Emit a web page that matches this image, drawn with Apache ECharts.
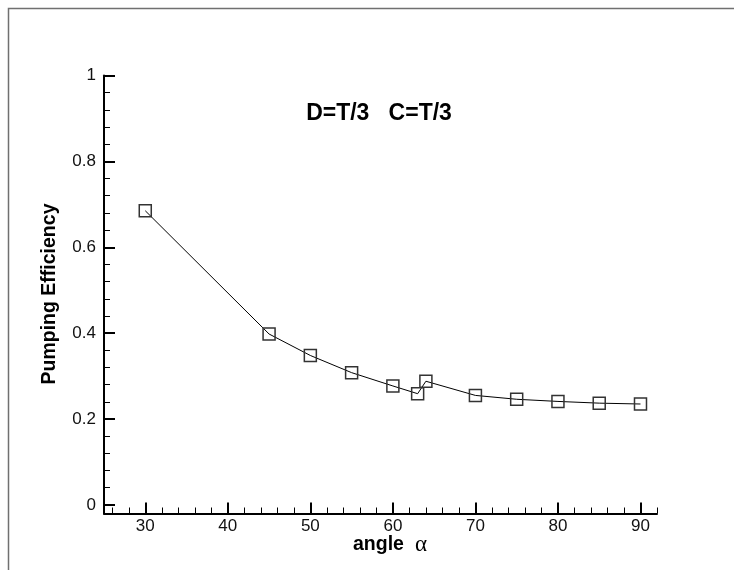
<!DOCTYPE html>
<html>
<head>
<meta charset="utf-8">
<script src="https://cdn.jsdelivr.net/npm/echarts@6/dist/echarts.min.js"></script>
<style>
html,body{margin:0;padding:0;background:#fff;}
#chart{width:734px;height:570px;}
</style>
</head>
<body>
<div id="chart"></div>
<script>
// Data
var angles = [30, 45, 50, 55, 60, 63, 64, 70, 75, 80, 85, 90];
var efficiency = [0.685, 0.398, 0.348, 0.308, 0.277, 0.259, 0.288, 0.255, 0.246, 0.241, 0.237, 0.235];
// Tick values / labels
var xMajorTicks = [30, 40, 50, 60, 70, 80, 90];
var xMinorTicks = [26, 28, 32, 34, 36, 38, 42, 44, 46, 48, 52, 54, 56, 58, 62, 64, 66, 68, 72, 74, 76, 78, 82, 84, 86, 88, 92];
var yMajorTicks = [0, 0.2, 0.4, 0.6, 0.8, 1];
var yMinorTicks = [0.04, 0.08, 0.12, 0.16, 0.24, 0.28, 0.32, 0.36, 0.44, 0.48, 0.52, 0.56, 0.64, 0.68, 0.72, 0.76, 0.84, 0.88, 0.92, 0.96];
var titleText = 'D=T/3   C=T/3';
var yTitle = 'Pumping Efficiency';

var chart = echarts.init(document.getElementById('chart'), null, {renderer: 'canvas'});
var pts = angles.map(function (a, i) { return [a, efficiency[i]]; });
var gridRect = {left: 104, right: 77, top: 75.5, bottom: 56.5};
var fontFam = '"Liberation Sans", Arial, Helvetica, sans-serif';

var option = {
  backgroundColor: '#ffffff',
  animation: false,
  grid: [
    Object.assign({}, gridRect),
    Object.assign({}, gridRect)
  ],
  xAxis: [
    {
      type: 'value', gridIndex: 0, min: 25, max: 92,
      axisLine: {show: true, onZero: false, lineStyle: {color: '#000', width: 2}},
      axisTick: {show: true, inside: true, length: 11, lineStyle: {color: '#000', width: 2}, customValues: xMajorTicks},
      axisLabel: {show: true, margin: 4, color: '#111', fontSize: 17, fontFamily: fontFam, customValues: xMajorTicks},
      splitLine: {show: false}
    },
    {
      type: 'value', gridIndex: 1, min: 25, max: 92,
      axisLine: {show: false, onZero: false},
      axisTick: {show: true, inside: true, length: 6, lineStyle: {color: '#000', width: 1}, customValues: xMinorTicks},
      axisLabel: {show: false},
      splitLine: {show: false}
    }
  ],
  yAxis: [
    {
      type: 'value', gridIndex: 0, min: -0.02, max: 1,
      axisLine: {show: true, onZero: false, lineStyle: {color: '#000', width: 2}},
      axisTick: {show: true, inside: true, length: 11, lineStyle: {color: '#000', width: 2}, customValues: yMajorTicks},
      axisLabel: {show: true, margin: 8, color: '#111', fontSize: 17, fontFamily: fontFam, customValues: yMajorTicks,
        formatter: function (v) { return String(Math.round(v * 10) / 10); }},
      splitLine: {show: false}
    },
    {
      type: 'value', gridIndex: 1, min: -0.02, max: 1,
      axisLine: {show: false, onZero: false},
      axisTick: {show: true, inside: true, length: 6, lineStyle: {color: '#000', width: 1}, customValues: yMinorTicks},
      axisLabel: {show: false},
      splitLine: {show: false}
    }
  ],
  graphic: [
    {
      type: 'rect', silent: true, z: 0,
      shape: {x: 8.5, y: 8.5, width: 900, height: 900},
      style: {fill: 'none', stroke: '#707070', lineWidth: 1.5}
    },
    {
      type: 'text', x: 379, y: 114, silent: true,
      style: {text: titleText, font: 'bold 23px ' + fontFam, fill: '#000', align: 'center', verticalAlign: 'middle'}
    },
    {
      type: 'text', x: 50, y: 294, rotation: Math.PI / 2, silent: true,
      style: {text: yTitle, font: 'bold 19.5px ' + fontFam, fill: '#000', align: 'center', verticalAlign: 'middle'}
    },
    {
      type: 'text', x: 390, y: 545, silent: true,
      style: {
        text: '{b|angle}{s| }{a|α}', align: 'center', verticalAlign: 'middle',
        rich: {
          b: {font: 'bold 19.5px ' + fontFam, fill: '#000'},
          s: {font: '19.5px ' + fontFam, width: 11},
          a: {font: '23px "Liberation Serif", "Times New Roman", serif', fill: '#000'}
        }
      }
    }
  ],
  series: [
    {
      type: 'line', xAxisIndex: 0, yAxisIndex: 0,
      data: pts,
      symbol: 'rect', symbolSize: 12,
      lineStyle: {color: '#000', width: 1},
      itemStyle: {color: 'rgba(0,0,0,0)', borderColor: '#333', borderWidth: 1.5},
      z: 3
    }
  ]
};
chart.setOption(option);
</script>
</body>
</html>
